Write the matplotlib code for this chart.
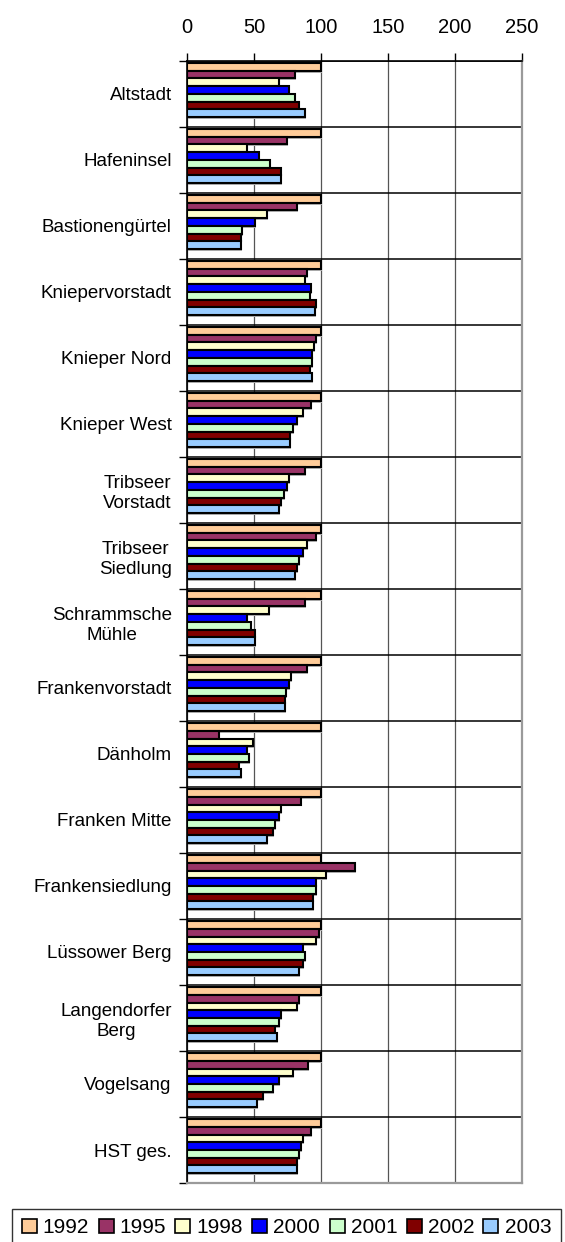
import matplotlib
matplotlib.use("Agg")
import matplotlib.pyplot as plt
import numpy as np
from matplotlib.patches import Patch

plt.rcParams['font.family'] = ['Liberation Sans', 'DejaVu Sans']

categories = ["Altstadt", "Hafeninsel", "Bastionengürtel", "Kniepervorstadt",
              "Knieper Nord", "Knieper West", "Tribseer\nVorstadt", "Tribseer\nSiedlung",
              "Schrammsche\nMühle", "Frankenvorstadt", "Dänholm", "Franken Mitte",
              "Frankensiedlung", "Lüssower Berg", "Langendorfer\nBerg", "Vogelsang", "HST ges."]
years = ["1992", "1995", "1998", "2000", "2001", "2002", "2003"]

v1992 = [100, 100, 100, 100, 100, 100, 100, 100, 100, 100, 100, 100, 100, 100, 100, 100, 100]
v1995 = [80.3, 74.4, 81.8, 89.6, 96.5, 92.3, 87.8, 96.5, 87.8, 89.3, 23.6, 85.1, 125.1, 98.3, 83.3, 90.5, 92.3]
v1998 = [68.4, 44.8, 59.7, 87.8, 95.0, 86.3, 75.9, 89.3, 60.9, 77.4, 49.0, 69.9, 104.0, 96.5, 81.8, 78.9, 86.3]
v2000 = [75.9, 53.5, 50.7, 92.5, 93.5, 81.8, 74.4, 86.3, 44.8, 75.9, 44.8, 68.4, 96.5, 86.3, 69.9, 68.4, 84.8]
v2001 = [80.3, 62.2, 41.3, 92.0, 93.5, 78.9, 72.6, 83.3, 47.5, 74.1, 46.3, 65.4, 96.5, 87.8, 68.4, 64.0, 83.3]
v2002 = [83.3, 69.9, 40.0, 96.5, 92.0, 77.1, 69.9, 81.8, 50.7, 72.9, 38.6, 64.2, 93.8, 86.3, 65.4, 56.5, 81.8]
v2003 = [87.8, 69.9, 40.0, 95.3, 93.5, 77.1, 68.4, 80.3, 50.7, 72.9, 40.0, 59.5, 93.8, 83.3, 66.9, 52.0, 81.8]
series = [v1992, v1995, v1998, v2000, v2001, v2002, v2003]
colors = ["#FFCC99", "#993366", "#FFFFCC", "#0000FF", "#CCFFCC", "#800000", "#99CCFF"]
xticks = [0, 50, 100, 150, 200, 250]

fig = plt.figure(figsize=(5.65, 12.42), dpi=100)
ax = fig.add_axes([0.331, 0.0475, 0.593, 0.9035])

n = len(categories)
y = np.arange(n)
h = 0.117
for j, (vals, c) in enumerate(zip(series, colors)):
    pos = y - 3.5 * h + j * h
    ax.barh(pos + 0.03, vals, height=h, color="#b0b0b0", edgecolor="none", zorder=2, left=0.8)
    ax.barh(pos, vals, height=h, color=c, edgecolor="black", linewidth=1.5, zorder=3)

ax.set_xlim(0, 250)
ax.set_ylim(n - 0.5, -0.5)
ax.xaxis.tick_top()
ax.set_xticks(xticks)
ax.set_xticklabels([str(t) for t in xticks], fontsize=14.5)
ax.tick_params(axis='x', direction='out', length=6, width=1, pad=11.5, color='black')

ax.set_yticks(np.arange(n + 1) - 0.5)
ax.set_yticklabels([])
ax.set_yticks(y, minor=True)
ax.set_yticklabels(categories, minor=True, fontsize=13.5, multialignment='center')
ax.tick_params(axis='y', which='major', direction='out', length=6, width=1)
ax.tick_params(axis='y', which='minor', length=0, pad=11)

ax.grid(axis='x', color='#555555', linewidth=0.9, zorder=0)
ax.grid(axis='y', which='major', color='black', linewidth=1.1, zorder=1)
ax.set_axisbelow(True)

for s in ['top', 'left']:
    ax.spines[s].set_color('black')
    ax.spines[s].set_linewidth(1.2)
for s in ['right', 'bottom']:
    ax.spines[s].set_color('#9a9a9a')
    ax.spines[s].set_linewidth(1.6)

handles = [Patch(facecolor=c, edgecolor='black', linewidth=1.2, label=yr) for c, yr in zip(colors, years)]
leg = fig.legend(handles=handles, loc='center', bbox_to_anchor=(0.507, 0.0115), ncol=7,
                 fontsize=15, frameon=True, fancybox=False, edgecolor='black',
                 handlelength=0.72, handleheight=0.72, handletextpad=0.29, columnspacing=0.45,
                 borderpad=0.45, borderaxespad=0)
leg.get_frame().set_linewidth(1.0)

fig.savefig("out.png", dpi=100)
